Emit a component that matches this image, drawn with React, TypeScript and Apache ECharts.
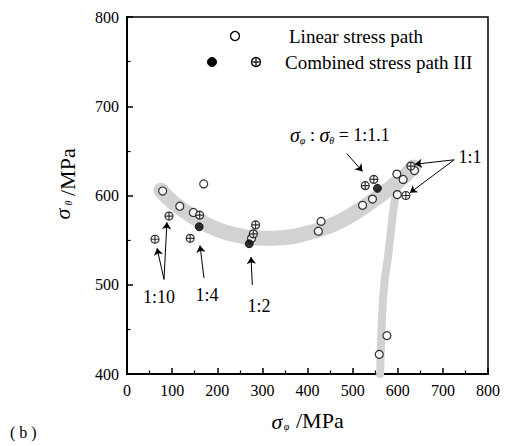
import React, { useEffect, useRef } from "react";
import * as echarts from "echarts";

const SERIF = "'Liberation Serif', 'Times New Roman', serif";

// X and Y ticks
const xTicks = { min: 0, max: 800, interval: 100 };
const yTicks = { min: 400, max: 800, interval: 100 };

// Linear stress path (open circles)
const linearPts: [number, number][] = [
  [79, 605], [117, 588], [147, 581], [170, 613], [276, 552],
  [424, 560], [430, 571], [522, 589], [544, 596], [598, 624],
  [612, 618], [599, 601], [637, 628], [559, 422], [576, 443],
];

// Combined stress path III, crossed circles
const combinedCrossPts: [number, number][] = [
  [62, 551], [93, 577], [140, 552], [161, 578], [280, 557],
  [285, 567], [528, 611], [547, 618], [629, 633], [618, 600],
];

// Combined stress path III, filled circles
const combinedFilledPts: [number, number][] = [
  [160, 565], [271, 546], [555, 608],
];

// Gray band: main curved branch and the vertical branch
const bandMain: [number, number][] = [
  [75, 606], [100, 593], [150, 575], [200, 562], [250, 555], [300, 552],
  [350, 553], [400, 558], [450, 566], [500, 579], [550, 596], [600, 615], [635, 632],
];
const bandVertical: [number, number][] = [
  [600, 612], [592, 590], [586, 565], [578, 530], [570, 500], [565, 460], [561, 400],
];

// Annotation arrows (data coords): [start, end]
const arrows: [[number, number], [number, number]][] = [
  [[487, 647], [522, 627]],
  [[725, 640], [638, 635]],
  [[725, 640], [627, 603]],
  [[82, 506], [88.5, 570]],
  [[82, 506], [66.5, 541]],
  [[170.6, 507.6], [161.8, 544]],
  [[277.7, 499.7], [274.8, 531]],
];

const CROSS_PATH =
  "path://M10,0A10,10,0,1,1,-10,0A10,10,0,1,1,10,0ZM-10,0L10,0M0,-10L0,10";

export default function App() {
  const ref = useRef<HTMLDivElement>(null);

  useEffect(() => {
    document.body.style.margin = "0";
    const chart = echarts.init(ref.current!, null, { renderer: "svg" });

    const axisCommon = {
      axisLine: { show: true, onZero: false, lineStyle: { color: "#000", width: 2 } },
      axisTick: { show: true, inside: true, length: 6, lineStyle: { color: "#000", width: 1.5 } },
      minorTick: { show: true, splitNumber: 2, length: 3.5, lineStyle: { color: "#000", width: 1.2 } },
      axisLabel: { color: "#000", fontFamily: SERIF, fontSize: 16, margin: 8 },
      splitLine: { show: false },
    };

    const subRich = {
      s: { fontFamily: SERIF, fontStyle: "italic", fontSize: 20, fill: "#000" },
      b: { fontFamily: SERIF, fontStyle: "italic", fontSize: 10, fill: "#000", verticalAlign: "bottom" },
      t: { fontFamily: SERIF, fontSize: 18, fill: "#000" },
    };

    chart.setOption({
      animation: false,
      backgroundColor: "#fff",
      grid: {
        left: 127, top: 17, right: 22, bottom: 72,
        show: true, borderColor: "#000", borderWidth: 1.5, backgroundColor: "transparent",
      },
      xAxis: { type: "value", ...xTicks, ...axisCommon },
      yAxis: { type: "value", ...yTicks, ...axisCommon },
      series: [
        {
          type: "line", data: bandMain, smooth: true, symbol: "none", z: 1,
          lineStyle: { color: "#d2d2d2", width: 15, cap: "round", join: "round" },
        },
        {
          type: "line", data: bandVertical, smooth: true, symbol: "none", z: 1,
          lineStyle: { color: "#d2d2d2", width: 8, cap: "round", join: "round" },
        },
        {
          type: "lines", coordinateSystem: "cartesian2d", z: 3,
          symbol: ["none", "arrow"], symbolSize: 7,
          lineStyle: { color: "#000", width: 1, opacity: 1 },
          data: arrows.map((a) => ({ coords: a })),
        },
        {
          name: "Linear stress path", type: "scatter", data: linearPts, z: 4,
          symbol: "circle", symbolSize: 8,
          itemStyle: { color: "#fff", borderColor: "#000", borderWidth: 1.2 },
        },
        {
          name: "Combined stress path III", type: "scatter", data: combinedCrossPts, z: 5,
          symbol: CROSS_PATH, symbolSize: 8, symbolKeepAspect: true,
          itemStyle: { color: "#fff", borderColor: "#000", borderWidth: 1.2 },
        },
        {
          name: "Combined stress path III (filled)", type: "scatter", data: combinedFilledPts, z: 5,
          symbol: "circle", symbolSize: 8,
          itemStyle: { color: "#000", borderColor: "#000", borderWidth: 1 },
        },
      ],
      graphic: [
        // legend
        { type: "circle", shape: { cx: 235, cy: 36, r: 4.5 }, style: { fill: "#fff", stroke: "#000", lineWidth: 1.3 }, z: 10 },
        { type: "text", x: 289, y: 36, style: { text: "Linear stress path", font: `19px ${SERIF}`, fill: "#000", align: "left", verticalAlign: "middle" }, z: 10 },
        { type: "circle", shape: { cx: 212, cy: 62, r: 4.5 }, style: { fill: "#000", stroke: "#000", lineWidth: 1 }, z: 10 },
        {
          type: "group", z: 10,
          children: [
            { type: "circle", shape: { cx: 256, cy: 62, r: 4.5 }, style: { fill: "#fff", stroke: "#000", lineWidth: 1.3 } },
            { type: "line", shape: { x1: 251.5, y1: 62, x2: 260.5, y2: 62 }, style: { stroke: "#000", lineWidth: 1.2 } },
            { type: "line", shape: { x1: 256, y1: 57.5, x2: 256, y2: 66.5 }, style: { stroke: "#000", lineWidth: 1.2 } },
          ],
        },
        { type: "text", x: 285, y: 62, style: { text: "Combined stress path III", font: `19px ${SERIF}`, fill: "#000", align: "left", verticalAlign: "middle" }, z: 10 },
        // annotations
        {
          type: "text", x: 290, y: 135, z: 10,
          style: { text: "{s|σ}{b|φ}{t| : }{s|σ}{b|θ}{t| = 1:1.1}", rich: subRich, align: "left", verticalAlign: "middle" },
        },
        { type: "text", x: 470, y: 157, style: { text: "1:1", font: `18px ${SERIF}`, fill: "#000", align: "center", verticalAlign: "middle" }, z: 10 },
        { type: "text", x: 159, y: 297, style: { text: "1:10", font: `18px ${SERIF}`, fill: "#000", align: "center", verticalAlign: "middle" }, z: 10 },
        { type: "text", x: 207, y: 295, style: { text: "1:4", font: `18px ${SERIF}`, fill: "#000", align: "center", verticalAlign: "middle" }, z: 10 },
        { type: "text", x: 259, y: 306, style: { text: "1:2", font: `18px ${SERIF}`, fill: "#000", align: "center", verticalAlign: "middle" }, z: 10 },
        // x axis name
        { type: "text", x: 277, y: 421, style: { text: "σ", font: `italic 22px ${SERIF}`, fill: "#000", align: "center", verticalAlign: "middle" } },
        { type: "text", x: 286.5, y: 426, style: { text: "φ", font: `italic 10px ${SERIF}`, fill: "#000", align: "center", verticalAlign: "middle" } },
        { type: "text", x: 296, y: 420, style: { text: "/MPa", font: `22px ${SERIF}`, fill: "#000", align: "left", verticalAlign: "middle" } },
        // y axis name (rotated)
        { type: "text", x: 62, y: 214, rotation: Math.PI / 2, style: { text: "σ", font: `italic 22px ${SERIF}`, fill: "#000", align: "center", verticalAlign: "middle" } },
        { type: "text", x: 68, y: 203, rotation: Math.PI / 2, style: { text: "θ", font: `italic 10px ${SERIF}`, fill: "#000", align: "center", verticalAlign: "middle" } },
        { type: "text", x: 67, y: 196, rotation: Math.PI / 2, style: { text: "/MPa", font: `22px ${SERIF}`, fill: "#000", align: "left", verticalAlign: "middle" } },
        // panel label
        { type: "text", x: 10, y: 432, style: { text: "( b )", font: `16px ${SERIF}`, fill: "#000", align: "left", verticalAlign: "middle" } },
      ],
    });

    return () => chart.dispose();
  }, []);

  return <div ref={ref} style={{ width: 510, height: 446 }} />;
}
